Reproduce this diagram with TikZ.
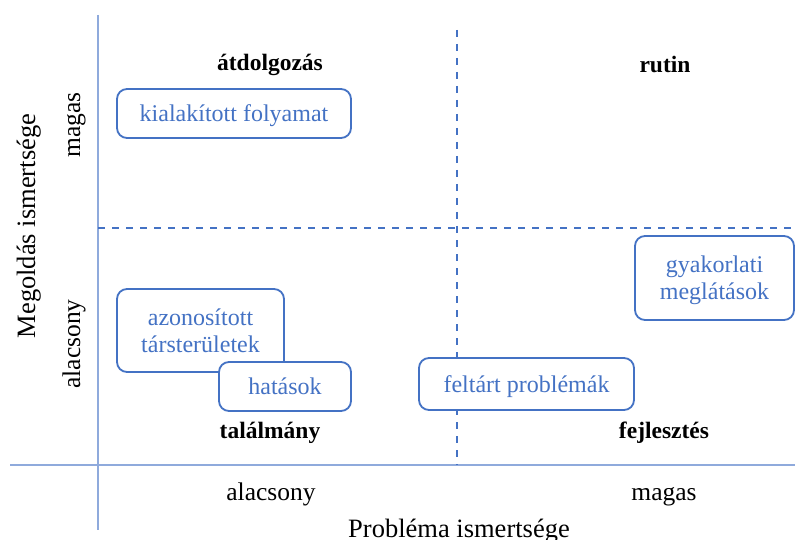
\documentclass[tikz,border=0pt]{standalone}
\usepackage{fontspec}
\setmainfont{Liberation Serif}
\definecolor{axisblue}{HTML}{8FAADC}
\definecolor{boxblue}{HTML}{4472C4}
% item text: stacked lines, set a little below the box centre
\newcommand\itemtext[1]{\raisebox{-3pt}[\height][\depth]{\begin{tabular}{@{}c@{}}#1\end{tabular}}}
\begin{document}
\begin{tikzpicture}[x=1pt,y=-1pt,
  every node/.style={inner sep=0pt,outer sep=0pt},
  axisline/.style={draw=axisblue,line width=1.6pt},
  splitline/.style={draw=boxblue,line width=1.6pt,dash pattern=on 7pt off 7pt},
  itembox/.style={draw=boxblue,line width=1.8pt,rounded corners=10pt,fill=white,
    text=boxblue,align=center,font=\fontsize{24}{27}\selectfont},
  quadlabel/.style={anchor=base,font=\fontsize{23.5}{27}\selectfont\bfseries},
  ticklabel/.style={anchor=base,font=\fontsize{25.5}{29}\selectfont},
  axistitle/.style={anchor=base,font=\fontsize{26.5}{30}\selectfont}]
\clip (0,0) rectangle (795,540);
\fill[white] (0,0) rectangle (795,540);

% axes
\coordinate (ytop) at (98,15);
\coordinate (ybot) at (98,530);
\coordinate (xleft) at (10,465);
\coordinate (xright) at (795,465);
\draw[axisline] (ytop) -- (ybot);
\draw[axisline] (xleft) -- (xright);

% quadrant dividers
\coordinate (vtop) at (457,30);
\coordinate (vbot) at (457,465);
\coordinate (hleft) at (98,228);
\coordinate (hright) at (795,228);
\draw[splitline] (vtop) -- (vbot);
\draw[splitline] (hleft) -- (hright);

% quadrant names
\node[quadlabel] (atdolg) at (270,71) {átdolgozás};
\node[quadlabel] (rutin) at (665,73) {rutin};
\node[quadlabel] (talalm) at (270,438) {találmány};
\node[quadlabel] (fejl) at (664,438) {fejlesztés};

% items
\node[itembox,minimum width=234pt,minimum height=49pt] (folyamat) at (234,113.5) {\itemtext{kialakított folyamat}};
\node[itembox,minimum width=167pt,minimum height=83pt] (tarster) at (200.5,330.5) {\itemtext{azonosított\\társterületek}};
\node[itembox,minimum width=132pt,minimum height=49pt] (hatasok) at (285,386.5) {\itemtext{hatások}};
\node[itembox,minimum width=215pt,minimum height=52pt] (feltart) at (526.5,384) {\itemtext{feltárt problémák}};
\node[itembox,minimum width=159pt,minimum height=84pt] (gyak) at (714.5,278) {\itemtext{gyakorlati\\meglátások}};

% tick labels
\node[ticklabel] (xlow) at (271,500) {alacsony};
\node[ticklabel] (xhigh) at (664,500) {magas};
\node[ticklabel,rotate=90] (yhigh) at (80,125) {magas};
\node[ticklabel,rotate=90] (ylow) at (80,344) {alacsony};

% axis titles
\node[axistitle] (xtitle) at (459,537) {Probléma ismertsége};
\node[axistitle,rotate=90] (ytitle) at (35,226) {Megoldás ismertsége};
\end{tikzpicture}
\end{document}
